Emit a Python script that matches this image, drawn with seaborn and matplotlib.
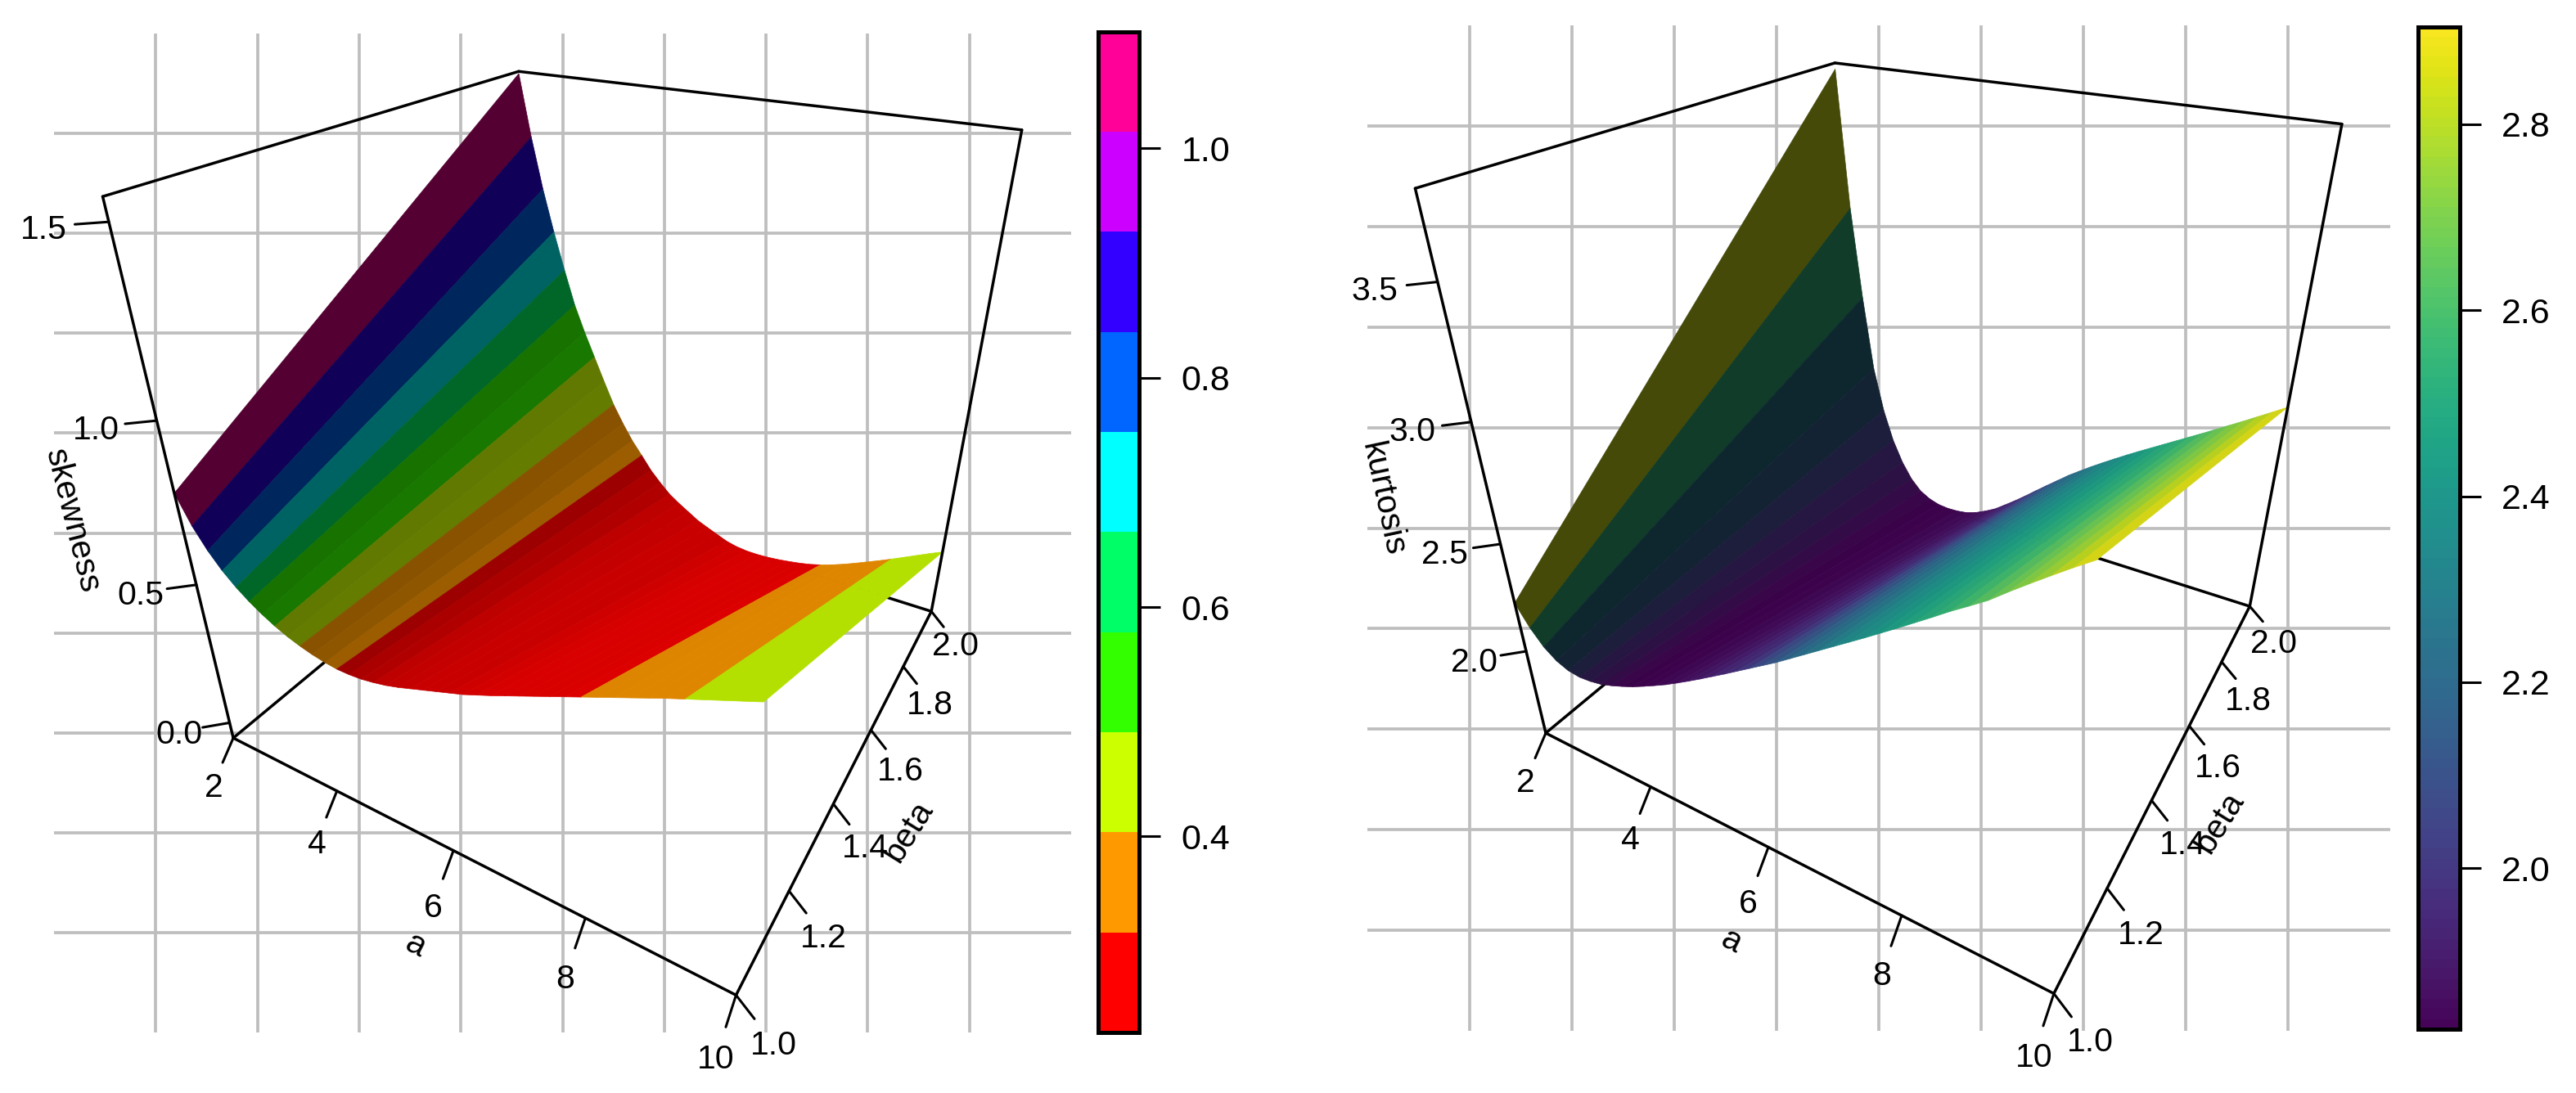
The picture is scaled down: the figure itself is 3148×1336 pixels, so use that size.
#%%
import numpy as np
import seaborn as sns
import matplotlib
matplotlib.use("Agg")
import matplotlib.pyplot as plt
from matplotlib.collections import PolyCollection
from matplotlib.colors import ListedColormap, BoundaryNorm

sns.set_style("whitegrid", {"grid.color": "#bebebe", "axes.grid": True, "text.color": "black", "ytick.color": "black"})
plt.rcParams['font.family'] = ['Liberation Sans', 'DejaVu Sans']

W, H = 3148, 1336

#%%
# Values. One row of a, surface height at beta = 1 and beta = 2.
a_vals = [2.0, 2.2, 2.4, 2.6, 2.8, 3.0, 3.2, 3.4, 3.6, 3.8, 4.0, 4.2, 4.4, 4.6, 4.8, 5.0, 5.2, 5.4, 5.6, 5.8, 6.0,
          6.2, 6.4, 6.6, 6.8, 7.0, 7.2, 7.4, 7.6, 7.8, 8.0, 8.2, 8.4, 8.6, 8.8, 9.0, 9.2, 9.4, 9.6, 9.8, 10.0]
beta_vals = [1.0, 2.0]

skew_beta1 = [.790, .703, .640, .591, .553, .522, .496, .474, .456, .442, .431, .423, .418, .418, .421, .428, .437,
              .449, .463, .477, .491, .505, .519, .536, .553, .571, .589, .607, .625, .643, .661, .679, .697, .715,
              .733, .751, .768, .785, .802, .819, .836]
skew_beta2 = [1.550, 1.347, 1.175, 1.028, .895, .770, .672, .583, .494, .409, .340, .278, .227, .174, .132, .094,
              .066, .041, .016, -.002, -.019, -.036, -.046, -.051, -.052, -.050, -.046, -.040, -.033, -.024, -.012,
              .003, .020, .039, .059, .079, .100, .122, .144, .166, .187]
# colour variable of each facet (between two a values)
skew_col = [1.08, .88, .80, .71, .63, .56, .51, .46, .42, .39, .35, .32, .31, .30, .29, .28, .27, .26, .25, .24, .24,
            .24, .24, .25, .25, .26, .27, .28, .29, .30, .32, .34, .36, .38, .39, .40, .41, .43, .45, .47]

kurt_beta1 = [2.232, 2.138, 2.069, 2.026, 2.003, 1.996, 2.001, 2.012, 2.031, 2.053, 2.077, 2.105, 2.134, 2.164,
              2.197, 2.231, 2.266, 2.302, 2.338, 2.375, 2.412, 2.449, 2.486, 2.526, 2.566, 2.606, 2.646, 2.686,
              2.726, 2.767, 2.808, 2.850, 2.892, 2.935, 2.975, 3.016, 3.065, 3.112, 3.158, 3.203, 3.246]
kurt_beta2 = [3.770, 3.130, 2.680, 2.300, 2.070, 1.905, 1.787, 1.700, 1.642, 1.610, 1.592, 1.586, 1.588, 1.596,
              1.615, 1.643, 1.675, 1.718, 1.762, 1.809, 1.858, 1.906, 1.953, 2.000, 2.042, 2.083, 2.122, 2.160,
              2.197, 2.233, 2.268, 2.303, 2.338, 2.373, 2.408, 2.444, 2.480, 2.516, 2.553, 2.590, 2.628]
kurt_col = [2.830, 2.530, 2.258, 2.140, 2.043, 1.967, 1.913, 1.870, 1.838, 1.827, 1.827, 1.827, 1.838, 1.849, 1.870,
            1.881, 1.903, 1.935, 1.967, 2.010, 2.073, 2.127, 2.181, 2.224, 2.267, 2.310, 2.353, 2.386, 2.418, 2.451,
            2.483, 2.515, 2.548, 2.591, 2.634, 2.677, 2.720, 2.764, 2.808, 2.862]

a_ticks = [2, 4, 6, 8, 10]
beta_ticks = [1.0, 1.2, 1.4, 1.6, 1.8, 2.0]
skew_ticks = [0.0, 0.5, 1.0, 1.5]
kurt_ticks = [2.0, 2.5, 3.0, 3.5]
skew_lim = (-0.0606, 1.557)
kurt_lim = (1.573, 3.797)
skew_cbar_lim = (0.229, 1.102)
kurt_cbar_lim = (1.827, 2.905)
skew_cbar_ticks = [0.4, 0.6, 0.8, 1.0]
kurt_cbar_ticks = [2.0, 2.2, 2.4, 2.6, 2.8]

#%%
# Camera of each panel, from where the box corners sit in the picture (a, beta, z, x px, y px).
def skew_view():
    z0, z1 = skew_lim
    return [(2, 1, z0, 283.8, 900.2), (10, 1, z0, 900.5, 1216.7), (10, 2, z0, 1137.8, 746), (2, 2, z0, 657, 597),
            (2, 1, z1, 127.5, 239.7), (2, 2, z1, 633, 86), (10, 2, z1, 1249, 158.6),
            (4, 1, z0, 409.4, 965.8), (6, 1, z0, 558, 1040.6), (8, 1, z0, 715.6, 1123.8),
            (10, 1.2, z0, 964, 1089.5), (10, 1.4, z0, 1019, 982), (10, 1.6, z0, 1063, 892.5), (10, 1.8, z0, 1103, 815),
            (2, 1, 0, 280.6, 881.8), (2, 1, .5, 239, 714.7), (2, 1, 1, 189.4, 514.7), (2, 1, 1.5, 134, 273.7)]

def kurt_view():
    z0, z1 = kurt_lim
    return [(2, 1, z0, 1890.7, 895), (10, 1, z0, 2510.5, 1214.3), (10, 2, z0, 2749, 739.5), (2, 2, z0, 2263, 587),
            (2, 1, z1, 1732, 230.8), (2, 2, z1, 2242.2, 76.8), (10, 2, z1, 2862.3, 151.6),
            (4, 1, z0, 2017, 962.8), (6, 1, z0, 2162.4, 1037), (8, 1, z0, 2323, 1118),
            (10, 1.2, z0, 2575.5, 1086), (10, 1.4, z0, 2629, 978), (10, 1.6, z0, 2675, 888.4), (10, 1.8, z0, 2714.8, 809.7),
            (2, 1, 2, 1864, 795.2), (2, 1, 2.5, 1831.8, 664.4), (2, 1, 3, 1796.4, 515.6), (2, 1, 3.5, 1756.2, 345)]

def fit_camera(pts):
    rows = []
    for a, b, z, x, y in pts:
        rows.append([a, b, z, 1, 0, 0, 0, 0, -x * a, -x * b, -x * z, -x])
        rows.append([0, 0, 0, 0, a, b, z, 1, -y * a, -y * b, -y * z, -y])
    return np.linalg.svd(np.array(rows))[2][-1].reshape(3, 4)

def project(cam, a, b, z):
    v = cam @ np.array([a, b, z, 1.0])
    return v[0] / v[2], v[1] / v[2]

#%%
def facet_shade(a, z1, z2, zlim):
    # lambert shading of each facet, light coming from the a = 2 side
    light = np.array([-.62, -.30, .72])
    a, z1, z2 = np.array(a), np.array(z1), np.array(z2)
    zr = zlim[1] - zlim[0]
    du = np.diff(a) / 8
    dwdu = (np.diff(z1) + np.diff(z2)) / 2 / zr / du
    dwdv = ((z2[:-1] + z2[1:]) - (z1[:-1] + z1[1:])) / 2 / zr
    n = np.column_stack([-dwdu, -dwdv, np.ones_like(du)])
    n = n / np.linalg.norm(n, axis=1, keepdims=True)
    return np.maximum((1 + n @ light) / 2, .33)

def draw_surface(ax, cam, z1, z2, col, cmap, norm, zlim):
    shade = facet_shade(a_vals, z1, z2, zlim)
    quads, colors = [], []
    for i in range(len(a_vals) - 1):
        quads.append([project(cam, a_vals[i], beta_vals[0], z1[i]),
                      project(cam, a_vals[i + 1], beta_vals[0], z1[i + 1]),
                      project(cam, a_vals[i + 1], beta_vals[1], z2[i + 1]),
                      project(cam, a_vals[i], beta_vals[1], z2[i])])
        rgb = np.array(cmap(norm(col[i]))[:3]) * shade[i]
        colors.append(rgb)
    ax.add_collection(PolyCollection(quads, facecolors=colors, edgecolors=colors, linewidths=.5, zorder=3))

def lerp(p, q, t):
    return p[0] + (q[0] - p[0]) * t, p[1] + (q[1] - p[1]) * t

def draw_box(ax, cam, zlim, z_ticks, off):
    z0, z1 = zlim
    back = [((2, 1, z0), (2, 2, z0)), ((2, 2, z0), (10, 2, z0))]
    front = [((2, 1, z0), (2, 1, z1)), ((2, 1, z1), (2, 2, z1)), ((2, 2, z1), (10, 2, z1)), ((10, 2, z1), (10, 2, z0)),
             ((2, 1, z0), (10, 1, z0)), ((10, 1, z0), (10, 2, z0))]
    for seg, zo in [(back, 2), (front, 4)]:
        for p, q in seg:
            xy = np.array([project(cam, *p), project(cam, *q)])
            ax.plot(xy[:, 0], xy[:, 1], color="black", lw=2.5, zorder=zo, clip_on=False, solid_capstyle="round")

    def tick(base, t, key, txt):
        e = lerp(off[key + "_tick"][0], off[key + "_tick"][1], t)
        l = lerp(off[key + "_label"][0], off[key + "_label"][1], t)
        ax.plot([base[0], base[0] + e[0]], [base[1], base[1] + e[1]], color="black", lw=2.2, zorder=4, clip_on=False)
        ax.text(base[0] + l[0], base[1] + l[1] + 3, txt, fontsize=29.5, ha="center", va="center", zorder=5)

    for v in a_ticks:
        tick(project(cam, v, 1, z0), (v - 2) / 8, "a", str(v))
    for v in beta_ticks:
        tick(project(cam, 10, v, z0), v - 1, "beta", "%.1f" % v)
    for v in z_ticks:
        tick(project(cam, 2, 1, v), (v - z_ticks[0]) / (z_ticks[-1] - z_ticks[0]), "z", "%.1f" % v)

def make_panel(fig, box):
    # axes in picture pixels, the ticks only carry the background grid
    x0, x1, y0, y1 = box
    ax = fig.add_axes([x0 / W, 1 - y1 / H, (x1 - x0) / W, (y1 - y0) / H])
    ax.set_xlim(x0, x1)
    ax.set_ylim(y1, y0)
    ax.set_xticks(np.linspace(x0, x1, 11)[1:-1])
    ax.set_yticks(np.linspace(y0, y1, 11)[1:-1])
    ax.tick_params(length=0, labelbottom=False, labelleft=False)
    ax.grid(True, color="#bebebe", lw=2.7)
    ax.set_axisbelow(True)
    for s in ax.spines.values():
        s.set_visible(False)
    ax.patch.set_alpha(0)
    return ax

def make_cbar(fig, box, lim, ticks, cmap, n):
    x0, x1, y0, y1 = box
    cax = fig.add_axes([x0 / W, 1 - y1 / H, (x1 - x0) / W, (y1 - y0) / H])
    edges = np.linspace(lim[0], lim[1], n + 1)
    cax.pcolormesh([0, 1], edges, ((edges[:-1] + edges[1:]) / 2).reshape(-1, 1), cmap=cmap,
                   norm=BoundaryNorm(edges, n), rasterized=True)
    cax.set_ylim(lim)
    cax.set_xticks([])
    cax.yaxis.tick_right()
    cax.set_yticks(ticks)
    cax.set_yticklabels(["%.1f" % t for t in ticks], fontsize=31)
    cax.tick_params(axis="y", length=19, width=2.2, pad=18, color="black", right=True, left=False)
    cax.grid(False)
    for s in cax.spines.values():
        s.set_visible(True)
        s.set_color("black")
        s.set_linewidth(3.6)
    return cax

#%%
fig = plt.figure(figsize=(W / 100, H / 100), dpi=100)

# left panel: skewness
rainbow = ListedColormap(sns.hls_palette(10, h=0, l=.5, s=1))
skew_norm = BoundaryNorm(np.linspace(skew_cbar_lim[0], skew_cbar_lim[1], 11), 10)
ax1 = make_panel(fig, (66, 1309, 41, 1262))
cam1 = fit_camera(skew_view())
draw_surface(ax1, cam1, skew_beta1, skew_beta2, skew_col, rainbow, skew_norm, skew_lim)
draw_box(ax1, cam1, skew_lim, skew_ticks, {
    "a_tick": ((-13, 30), (-12.5, 39)), "a_label": ((-24, 58), (-25, 76)),
    "beta_tick": ((22.5, 29), (15, 19)), "beta_label": ((45.5, 59), (29, 40)),
    "z_tick": ((-33, 5.7), (-41.5, 3)), "z_label": ((-62, 12), (-80, 7))})
ax1.text(88, 637, "skewness", fontsize=29.5, rotation=-76, ha="center", va="center", rotation_mode="anchor")
ax1.text(507, 1155, "a", fontsize=29.5, rotation=-27, ha="center", va="center", rotation_mode="anchor")
ax1.text(1110, 1016, "beta", fontsize=29.5, rotation=58, ha="center", va="center", rotation_mode="anchor")
make_cbar(fig, (1342, 1392.4, 38.5, 1262), skew_cbar_lim, skew_cbar_ticks, rainbow, 10)

# right panel: kurtosis
viridis = ListedColormap(sns.color_palette("viridis", 100))
kurt_norm = BoundaryNorm(np.linspace(kurt_cbar_lim[0], kurt_cbar_lim[1], 101), 100)
ax2 = make_panel(fig, (1671, 2921, 31, 1260))
cam2 = fit_camera(kurt_view())
draw_surface(ax2, cam2, kurt_beta1, kurt_beta2, kurt_col, viridis, kurt_norm, kurt_lim)
draw_box(ax2, cam2, kurt_lim, kurt_ticks, {
    "a_tick": ((-13, 30.6), (-13, 39.4)), "a_label": ((-25, 58), (-24.5, 75.7)),
    "beta_tick": ((21.5, 28.4), (16, 18.6)), "beta_label": ((44.5, 57), (29, 42.5)),
    "z_tick": ((-31, 5), (-37.6, 4)), "z_label": ((-63.5, 11), (-76.5, 8.6))})
ax2.text(1690, 610, "kurtosis", fontsize=29.5, rotation=-78, ha="center", va="center", rotation_mode="anchor")
ax2.text(2115, 1150, "a", fontsize=29.5, rotation=-27, ha="center", va="center", rotation_mode="anchor")
ax2.text(2712, 1005, "beta", fontsize=29.5, rotation=58, ha="center", va="center", rotation_mode="anchor")
make_cbar(fig, (2955, 3005.8, 32.5, 1258), kurt_cbar_lim, kurt_cbar_ticks, viridis, 100)

fig.savefig("out.png", dpi=100)
